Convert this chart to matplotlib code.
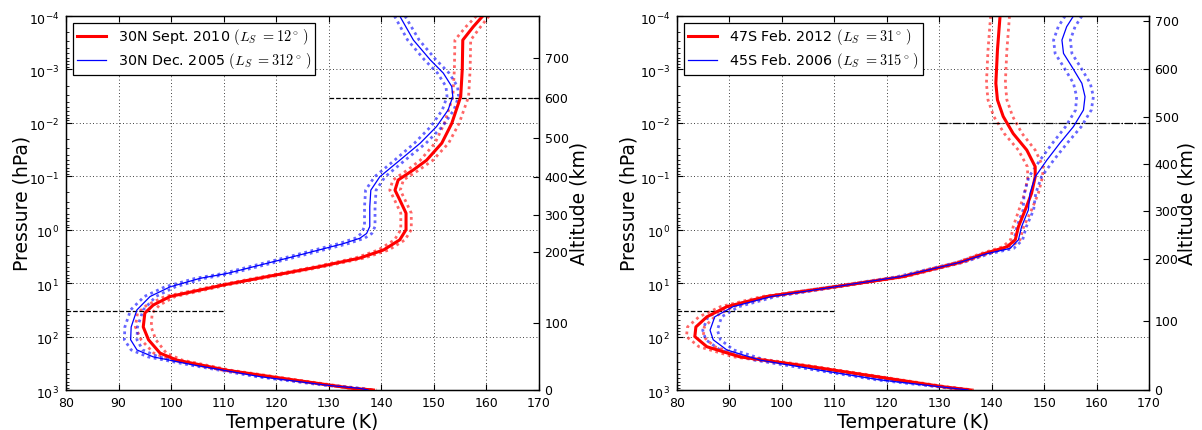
import numpy as np
import matplotlib
matplotlib.use('Agg')
import matplotlib.pyplot as plt
from matplotlib.ticker import NullLocator, FixedLocator, LogLocator
from matplotlib.transforms import ScaledTranslation

plt.rcParams['font.family'] = ['DejaVu Sans']
plt.rcParams['mathtext.fontset'] = 'cm'
plt.rcParams['axes.unicode_minus'] = False

# ---------------- data (log10 pressure in hPa, temperature in K, 1-sigma error in K)
# Left panel: 30N
l_red_logp = [-4.0, -3.8, -3.55, -3.0, -2.49, -1.99, -1.62, -1.30, -1.12, -0.93, -0.74, -0.56,
              -0.31, 0.0, 0.19, 0.38, 0.53, 0.69, 0.786, 1.035, 1.25, 1.41, 1.56, 1.82, 2.06,
              2.31, 2.44, 2.63, 2.81, 2.97, 3.0]
l_red_T = [159.3, 157.5, 155.5, 155.4, 155.1, 153.4, 151.5, 148.6, 146.1, 143.2, 142.6, 143.5,
           144.7, 144.7, 143.5, 140.4, 135.9, 128.3, 123.2, 109.9, 99.8, 96.6, 95.0, 94.7, 95.7,
           97.9, 101.1, 110.6, 123.2, 134.6, 138.5]
l_red_err = [1.2, 1.4, 1.5, 1.5, 1.5, 1.4, 1.3, 1.2, 1.1, 1.0, 1.0, 1.0,
             1.0, 1.0, 1.0, 1.0, 0.9, 0.8, 0.8, 0.8, 1.0, 1.2, 1.4, 1.5, 1.4,
             1.2, 1.0, 0.8, 0.7, 0.6, 0.6]

l_blue_logp = [-4.0, -3.55, -3.18, -2.93, -2.68, -2.49, -2.24, -1.93, -1.62, -1.30, -0.99, -0.74,
               -0.43, -0.06, 0.07, 0.16, 0.26, 0.505, 0.82, 0.91, 1.07, 1.25, 1.50, 1.82, 2.06,
               2.25, 2.38, 2.53, 2.75, 2.91, 2.97, 3.0]
l_blue_T = [143.5, 146.1, 149.3, 151.8, 153.4, 153.6, 152.7, 150.5, 147.4, 143.5, 139.7, 138.0,
            137.8, 137.8, 137.2, 135.9, 132.8, 123.2, 110.6, 105.5, 99.8, 96.0, 93.5, 92.4, 92.3,
            93.5, 96.6, 104.2, 116.9, 129.6, 135.9, 137.5]
l_blue_err = [1.0, 1.1, 1.1, 1.1, 1.1, 1.1, 1.1, 1.1, 1.1, 1.0, 1.0, 1.0,
              1.0, 1.0, 1.0, 0.9, 0.9, 0.8, 0.8, 0.9, 1.0, 1.1, 1.2, 1.2, 1.2,
              1.1, 1.0, 0.8, 0.7, 0.6, 0.6, 0.6]

# Right panel: 47S / 45S
r_red_logp = [-4.0, -3.36, -2.74, -2.43, -2.12, -1.80, -1.49, -1.18, -0.99, -0.68, -0.37, -0.056,
              0.19, 0.32, 0.45, 0.61, 0.88, 1.07, 1.25, 1.44, 1.63, 1.82, 2.00, 2.19, 2.38,
              2.56, 2.75, 2.94, 3.0]
r_red_T = [141.6, 141.1, 140.8, 141.1, 142.2, 144.1, 146.7, 148.3, 148.3, 147.6, 146.4, 145.1,
           144.5, 142.9, 138.5, 134.0, 123.0, 110.0, 97.1, 89.5, 85.7, 83.6, 83.4, 85.7, 92.0,
           105.4, 118.1, 130.8, 136.0]
r_red_err = [1.8, 1.8, 1.8, 1.8, 1.8, 1.7, 1.6, 1.5, 1.4, 1.3, 1.2, 1.0,
             0.9, 0.8, 0.7, 0.6, 0.6, 0.7, 0.9, 1.2, 1.5, 1.6, 1.6, 1.5, 1.2,
             0.9, 0.7, 0.6, 0.6]

r_blue_logp = [-4.0, -3.80, -3.55, -3.30, -3.05, -2.74, -2.49, -2.24, -1.93, -1.62, -1.30, -0.99,
               -0.68, -0.37, -0.056, 0.19, 0.35, 0.45, 0.61, 0.88, 1.07, 1.25, 1.44, 1.63, 1.88,
               2.06, 2.25, 2.44, 2.63, 2.81, 3.0]
r_blue_T = [155.6, 154.3, 153.4, 153.7, 155.3, 157.2, 157.8, 157.5, 155.6, 153.0, 150.5, 148.3,
            147.3, 147.0, 145.7, 145.1, 143.5, 139.0, 134.0, 122.5, 110.0, 98.0, 90.7, 87.2, 86.3,
            86.9, 89.5, 95.8, 107.3, 118.7, 135.5]
r_blue_err = [1.6, 1.6, 1.6, 1.6, 1.6, 1.6, 1.6, 1.5, 1.5, 1.4, 1.3, 1.2,
              1.1, 1.0, 0.9, 0.8, 0.7, 0.6, 0.6, 0.6, 0.7, 0.9, 1.1, 1.3, 1.4,
              1.4, 1.3, 1.1, 0.8, 0.7, 0.6]

# Altitude scale (km) and the log10 pressure at which each altitude tick sits
alt_labels = [0, 100, 200, 300, 400, 500, 600, 700]
l_alt_logp = [3.0, 1.746, 0.417, -0.275, -0.987, -1.716, -2.465, -3.214]
r_alt_logp = [3.0, 1.703, 0.543, -0.344, -1.224, -2.109, -3.002, -3.912]

# Reference levels: (log10 p, T start, T end, style)
l_refs = [(-2.465, 130, 170, '--'), (1.527, 80, 110, '--')]
r_refs = [(-2.0, 130, 170, '-.'), (1.527, 80, 110, '--')]

l_labels = [r'30N Sept. 2010 $(L_S\ {=}12^\circ\,)$', r'30N Dec. 2005 $(L_S\ {=}312^\circ\,)$']
r_labels = [r'47S Feb. 2012 $(L_S\ {=}31^\circ\,)$', r'45S Feb. 2006 $(L_S\ {=}315^\circ\,)$']

xticks = [80, 90, 100, 110, 120, 130, 140, 150, 160, 170]

TICK_FS = 9
LAB_FS = 13.5

fig = plt.figure(figsize=(12.02, 4.30), dpi=100)
axL = fig.add_axes([66 / 1202, 40 / 430, 473 / 1202, 374 / 430])
axR = fig.add_axes([677 / 1202, 40 / 430, 472 / 1202, 374 / 430])

dot = (0, (1.0, 1.3))


def draw(ax, series, labels, alt_logp, refs, ylab_x, alt_x):
    handles = []
    for (lp, T, e, col, lw), lab in zip(series, labels):
        p = 10.0 ** np.array(lp)
        T = np.array(T)
        e = np.array(e)
        h, = ax.plot(T, p, color=col, lw=lw, label=lab, zorder=3)
        ax.plot(T - e, p, color=col, lw=2.0, ls=dot, alpha=0.6, zorder=2)
        ax.plot(T + e, p, color=col, lw=2.0, ls=dot, alpha=0.6, zorder=2)
        handles.append(h)
    for lp, t0, t1, st in refs:
        ax.plot([t0, t1], [10.0 ** lp, 10.0 ** lp], color='k', ls=st, lw=0.9, zorder=2)
    ax.set_yscale('log')
    ax.set_ylim(1e3, 1e-4)
    ax.set_xlim(80, 170)
    ax.set_xticks(xticks)
    ax.yaxis.set_major_locator(FixedLocator([10.0 ** k for k in range(-4, 4)]))
    ax.yaxis.set_minor_locator(LogLocator(base=10, subs=np.arange(2, 10), numticks=20))
    ax.grid(True, which='major', color='k', ls=(0, (1, 3)), lw=0.6)
    ax.tick_params(which='both', direction='in', top=True, right=False, labelsize=TICK_FS)
    ax.tick_params(which='major', length=4, width=0.8, pad=5)
    ax.tick_params(which='minor', length=2, width=0.6)
    ax.tick_params(axis='x', which='minor', top=False, bottom=False)
    ax.set_xlabel('Temperature (K)', fontsize=LAB_FS, labelpad=2)
    ax.set_ylabel('Pressure (hPa)', fontsize=LAB_FS)
    ax.yaxis.set_label_coords(ylab_x, 0.5)
    for s in ax.spines.values():
        s.set_linewidth(1.0)
    leg = ax.legend(handles=handles, loc='upper left', fontsize=10.3, fancybox=False,
                    framealpha=1.0, edgecolor='k', borderaxespad=0.5, handlelength=2.0,
                    borderpad=0.3, labelspacing=0.25)
    leg.get_frame().set_linewidth(0.9)
    # shift decade labels so the "10" (not the superscript) sits near the tick
    off = ScaledTranslation(0, -1.5 / 72, fig.dpi_scale_trans)
    for t in ax.yaxis.get_major_ticks():
        t.label1.set_transform(t.label1.get_transform() + off)

    ax2 = ax.twinx()
    ax2.set_yscale('log')
    ax2.set_ylim(1e3, 1e-4)
    ax2.yaxis.set_major_locator(FixedLocator([10.0 ** v for v in alt_logp]))
    ax2.yaxis.set_minor_locator(NullLocator())
    ax2.set_yticklabels([str(a) for a in alt_labels])
    ax2.tick_params(direction='in', length=4, width=0.8, labelsize=TICK_FS, pad=4)
    ax2.set_ylabel('Altitude (km)', fontsize=LAB_FS)
    ax2.yaxis.set_label_coords(alt_x, 0.5)
    return ax2


draw(axL,
     [(l_red_logp, l_red_T, l_red_err, 'red', 2.2),
      (l_blue_logp, l_blue_T, l_blue_err, 'blue', 0.9)],
     l_labels, l_alt_logp, l_refs, -0.072, 1.0655)
draw(axR,
     [(r_red_logp, r_red_T, r_red_err, 'red', 2.2),
      (r_blue_logp, r_blue_T, r_blue_err, 'blue', 0.9)],
     r_labels, r_alt_logp, r_refs, -0.0826, 1.0614)

fig.savefig('out.png', dpi=100, facecolor='white')
